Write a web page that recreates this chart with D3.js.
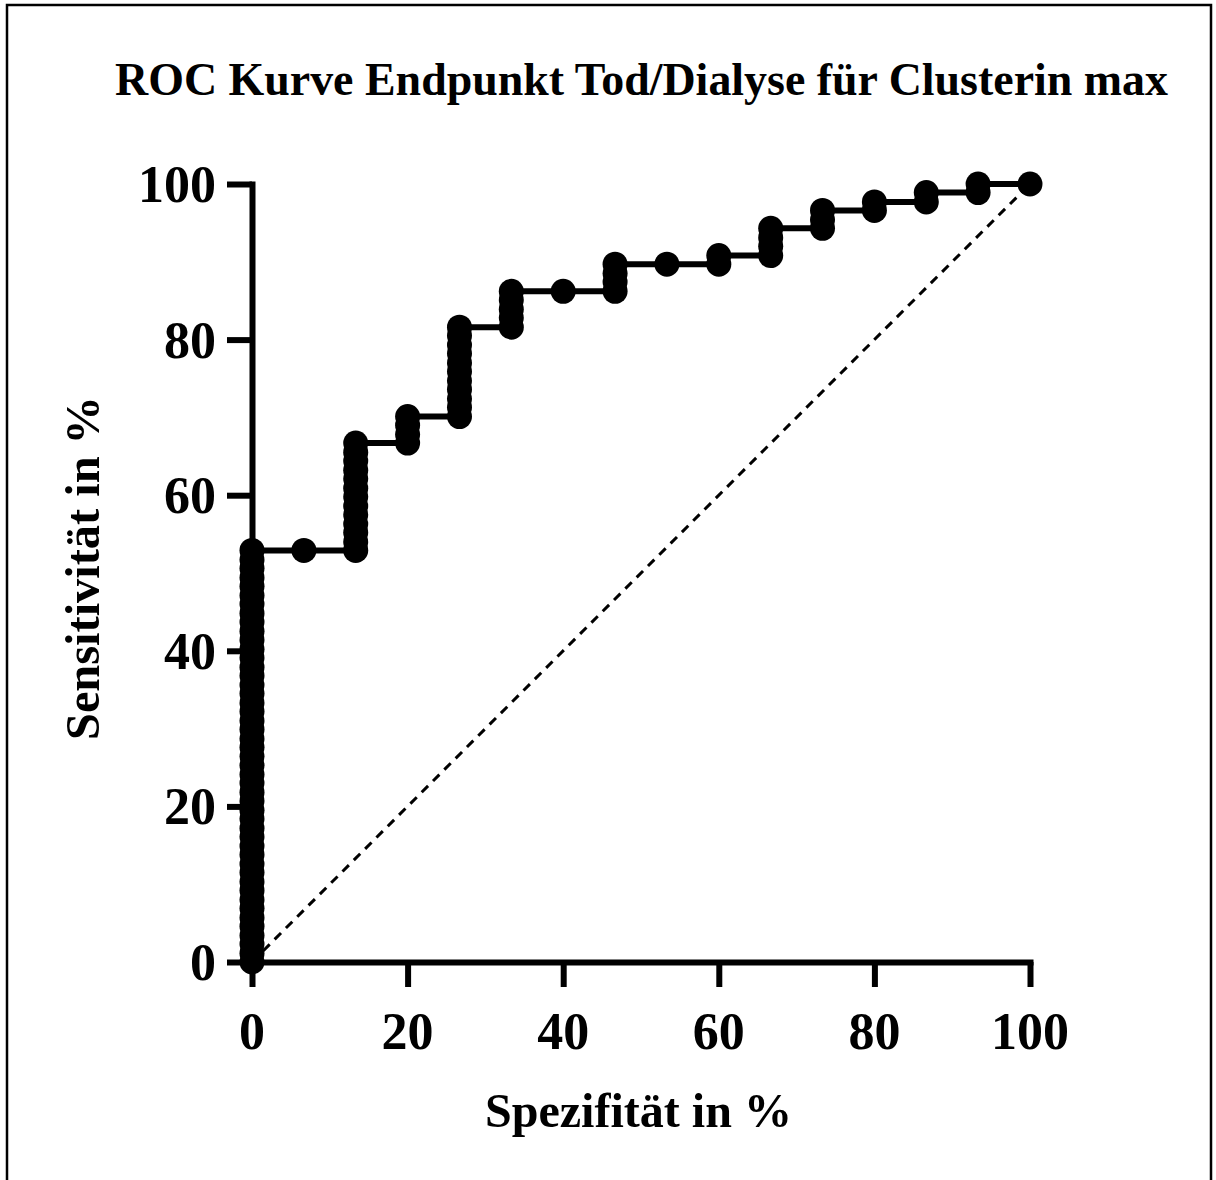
<!DOCTYPE html>
<html>
<head>
<meta charset="utf-8">
<script src="https://cdn.jsdelivr.net/npm/d3@7"></script>
<style>
  html, body { margin: 0; padding: 0; background: #fff; }
  svg { display: block; }
  text { font-family: "Liberation Serif", "Times New Roman", serif; font-weight: bold; fill: #000; }
</style>
</head>
<body>
<svg id="chart" width="1216" height="1180"></svg>
<script>
// ---- data ----
const titleText = "ROC Kurve Endpunkt Tod/Dialyse für Clusterin max";
const xLabel = "Spezifität in %";
const yLabel = "Sensitivität in %";
const xTicks = [0, 20, 40, 60, 80, 100];
const yTicks = [0, 20, 40, 60, 80, 100];

// x positions of the ROC curve (one entry per column of points)
const fprLevels = [0, 6.67, 13.33, 20, 26.67, 33.33, 40, 46.67, 53.33, 60, 66.67, 73.33, 80, 86.67, 93.33, 100];
// sensitivity values of the points in each column
const sensByLevel = [
  [0, 1.1, 2.3, 3.4, 4.6, 5.7, 6.9, 8.0, 9.2, 10.3, 11.5, 12.6, 13.8, 14.9, 16.1, 17.2, 18.4, 19.5, 20.7, 21.8, 23.0, 24.1, 25.3, 26.4, 27.6, 28.7, 29.9, 31.0, 32.2, 33.3, 34.5, 35.6, 36.8, 37.9, 39.1, 40.2, 41.4, 42.5, 43.7, 44.8, 46.0, 47.1, 48.3, 49.4, 50.6, 51.7, 52.9],
  [52.9],
  [52.9, 54.0, 55.2, 56.3, 57.5, 58.6, 59.8, 60.9, 62.1, 63.2, 64.4, 65.5, 66.7],
  [66.7, 67.8, 69.0, 70.1],
  [70.1, 71.3, 72.4, 73.6, 74.7, 75.9, 77.0, 78.2, 79.3, 80.5, 81.6],
  [81.6, 82.8, 83.9, 85.1, 86.2],
  [86.2],
  [86.2, 87.4, 88.5, 89.7],
  [89.7],
  [89.7, 90.8],
  [90.8, 92.0, 93.1, 94.3],
  [94.3, 95.4, 96.6],
  [96.6, 97.7],
  [97.7, 98.9],
  [98.9, 100],
  [100]
];
const refLine = [[0, 0], [100, 100]];

// ---- build point list ----
const points = [];
fprLevels.forEach((fx, i) => sensByLevel[i].forEach(s => points.push({x: fx, y: s})));

// ---- layout ----
const svg = d3.select("#chart");
const x = d3.scaleLinear().domain([0, 100]).range([252, 1030]);
const y = d3.scaleLinear().domain([0, 100]).range([962, 184]);

// frame (left, top, right)
svg.append("path")
  .attr("d", "M7,1180 L7,5 L1211,5 L1211,1180")
  .attr("fill", "none").attr("stroke", "#000").attr("stroke-width", 2.5);

// title
svg.append("text")
  .attr("x", 641.5).attr("y", 95)
  .attr("text-anchor", "middle")
  .attr("font-size", 45.7)
  .attr("textLength", 1053).attr("lengthAdjust", "spacingAndGlyphs")
  .text(titleText);

// axes
const xAxis = d3.axisBottom(x).tickValues(xTicks).tickSize(25).tickSizeOuter(0).tickFormat("");
const yAxis = d3.axisLeft(y).tickValues(yTicks).tickSize(25).tickSizeOuter(0).tickFormat("");

const gx = svg.append("g").attr("transform", "translate(0,962)").call(xAxis);
const gy = svg.append("g").attr("transform", "translate(252,0)").call(yAxis);
[gx, gy].forEach(g => {
  g.select(".domain").attr("stroke", "#000").attr("stroke-width", 6).attr("stroke-linecap", "square");
  g.selectAll(".tick line").attr("stroke", "#000").attr("stroke-width", 6);
});

// tick labels
svg.append("g").selectAll("text").data(xTicks).join("text")
  .attr("x", d => x(d)).attr("y", 1049)
  .attr("text-anchor", "middle").attr("font-size", 52)
  .text(d => d);
svg.append("g").selectAll("text").data(yTicks).join("text")
  .attr("x", 216).attr("y", d => y(d) + 18)
  .attr("text-anchor", "end").attr("font-size", 52)
  .text(d => d);

// axis titles
svg.append("text")
  .attr("x", 638.5).attr("y", 1127)
  .attr("text-anchor", "middle").attr("font-size", 48)
  .attr("textLength", 307).attr("lengthAdjust", "spacingAndGlyphs")
  .text(xLabel);
svg.append("text")
  .attr("transform", "translate(99,568) rotate(-90)")
  .attr("text-anchor", "middle").attr("font-size", 48)
  .attr("textLength", 344).attr("lengthAdjust", "spacingAndGlyphs")
  .text(yLabel);

// reference diagonal
svg.append("path")
  .datum(refLine)
  .attr("d", d3.line().x(d => x(d[0])).y(d => y(d[1])))
  .attr("fill", "none").attr("stroke", "#000").attr("stroke-width", 3)
  .attr("stroke-dasharray", "9,7");

// ROC curve line
svg.append("path")
  .datum(points)
  .attr("d", d3.line().x(d => x(d.x)).y(d => y(d.y)))
  .attr("fill", "none").attr("stroke", "#000").attr("stroke-width", 6)
  .attr("stroke-linejoin", "round");

// markers
svg.append("g").selectAll("circle").data(points).join("circle")
  .attr("cx", d => x(d.x)).attr("cy", d => y(d.y)).attr("r", 12.5)
  .attr("fill", "#000");
</script>
</body>
</html>
